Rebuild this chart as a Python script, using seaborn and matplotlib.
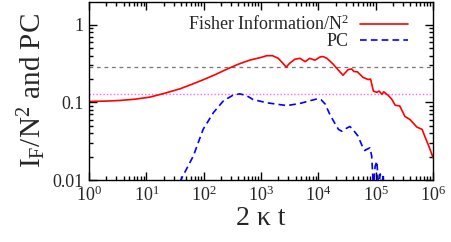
import numpy as np
import pandas as pd
import seaborn as sns
import matplotlib.pyplot as plt
from matplotlib.ticker import LogLocator, LogFormatterMathtext, FixedLocator, FixedFormatter, NullFormatter

# valori (esponente log10 di 2kt)
fisher_logt = [0.0, 0.3, 0.54, 0.8, 1.06, 1.3, 1.59, 1.8, 2.0, 2.2, 2.39, 2.6, 2.8, 3.0,
               3.1, 3.2, 3.3, 3.38, 3.44, 3.5, 3.59, 3.68, 3.77, 3.85, 3.94, 4.03, 4.08,
               4.15, 4.26, 4.35, 4.43, 4.52, 4.58, 4.62, 4.68, 4.78, 4.87, 4.91, 4.96,
               5.02, 5.06, 5.11, 5.14, 5.22, 5.28, 5.34, 5.42, 5.51, 5.6, 5.72, 5.81,
               5.86, 5.93, 6.0]
fisher_val = [0.103, 0.104, 0.106, 0.110, 0.117, 0.130, 0.150, 0.172, 0.197, 0.228, 0.265,
              0.31, 0.35, 0.38, 0.40, 0.40, 0.37, 0.32, 0.285, 0.32, 0.36, 0.37, 0.335,
              0.37, 0.35, 0.385, 0.39, 0.37, 0.31, 0.26, 0.224, 0.265, 0.27, 0.25, 0.248,
              0.21, 0.197, 0.2, 0.14, 0.135, 0.14, 0.127, 0.137, 0.123, 0.11, 0.092, 0.09,
              0.066, 0.06, 0.048, 0.045, 0.036, 0.027, 0.0195]

pc_logt = [1.5, 1.6, 1.82, 1.99, 2.17, 2.34, 2.51, 2.63, 2.75, 2.86, 3.1, 3.45, 3.68, 3.85,
           3.98, 4.05, 4.12, 4.2, 4.28, 4.35, 4.41, 4.48, 4.55, 4.62, 4.69, 4.76, 4.81,
           4.85, 4.9, 4.93, 4.96, 4.99, 5.02, 5.05, 5.08, 5.1, 5.13, 5.16]
pc_val = [0.007, 0.010, 0.0205, 0.045, 0.074, 0.104, 0.124, 0.129, 0.122, 0.109, 0.099,
          0.091, 0.097, 0.105, 0.111, 0.108, 0.095, 0.07, 0.055, 0.045, 0.0425, 0.046,
          0.049, 0.043, 0.037, 0.028, 0.024, 0.025, 0.026, 0.0205, 0.008, 0.015, 0.0175,
          0.008, 0.012, 0.006, 0.012, 0.005]

# livelli di riferimento orizzontali
ref_gray = 0.29
ref_magenta = 0.128

y_ticks = [0.01, 0.1, 1]
y_ticklabels = ["0.01", "0.1", "1"]

fisher = pd.DataFrame({"t": 10 ** np.array(fisher_logt), "v": fisher_val})
pc = pd.DataFrame({"t": 10 ** np.array(pc_logt), "v": pc_val})

sns.set_style("ticks")
plt.rcParams['font.family'] = ['Liberation Serif', 'DejaVu Serif']
plt.rcParams['mathtext.fontset'] = 'custom'
plt.rcParams['mathtext.rm'] = 'Liberation Serif'
plt.rcParams['mathtext.it'] = 'Liberation Serif:italic'
plt.rcParams['mathtext.default'] = 'rm'

fig = plt.figure(figsize=(4.52, 2.42), dpi=100)
ax = fig.add_axes([0.197, 0.256, 0.761, 0.736])

ax.axhline(ref_gray, color="#777777", lw=0.9, ls=(0, (3, 3)))
ax.axhline(ref_magenta, color="#ff66ff", lw=1.0, ls=(0, (1, 1.5)))

sns.lineplot(data=fisher, x="t", y="v", color="#ff0000", lw=1.2, ax=ax,
             label="Fisher Information/N$^2$")
sns.lineplot(data=pc, x="t", y="v", color="#0000ff", lw=1.2, ax=ax,
             label="PC", linestyle=(0, (4, 2.5)))

ax.set_xscale("log")
ax.set_yscale("log")
ax.set_xlim(1, 1e6)
ax.set_ylim(0.01, 1.97)

ax.xaxis.set_major_locator(LogLocator(base=10, numticks=10))
ax.xaxis.set_major_formatter(LogFormatterMathtext())
ax.xaxis.set_minor_locator(LogLocator(base=10, subs=np.arange(2, 10), numticks=20))
ax.xaxis.set_minor_formatter(NullFormatter())
ax.yaxis.set_major_locator(FixedLocator(y_ticks))
ax.yaxis.set_major_formatter(FixedFormatter(y_ticklabels))
ax.yaxis.set_minor_locator(LogLocator(base=10, subs=np.arange(2, 10), numticks=20))
ax.yaxis.set_minor_formatter(NullFormatter())

ax.tick_params(which="both", direction="in", top=True, right=True, width=1.0,
               labelsize=13, color="black")
ax.tick_params(which="major", length=6, pad=4)
ax.tick_params(which="minor", length=3)
for s in ax.spines.values():
    s.set_linewidth(1.0)
    s.set_color("black")

ax.set_xlabel("2 κ t", fontsize=20, labelpad=1)
ax.set_ylabel("I$_\\mathrm{F}$/N$^2$ and PC", fontsize=21, labelpad=3)

leg = ax.legend(loc="upper right", frameon=False, markerfirst=False, fontsize=13,
                handlelength=2.7, handletextpad=0.6, labelspacing=-0.05,
                borderaxespad=0.3, bbox_to_anchor=(0.965, 1.0))

plt.savefig("out.png", dpi=100)
